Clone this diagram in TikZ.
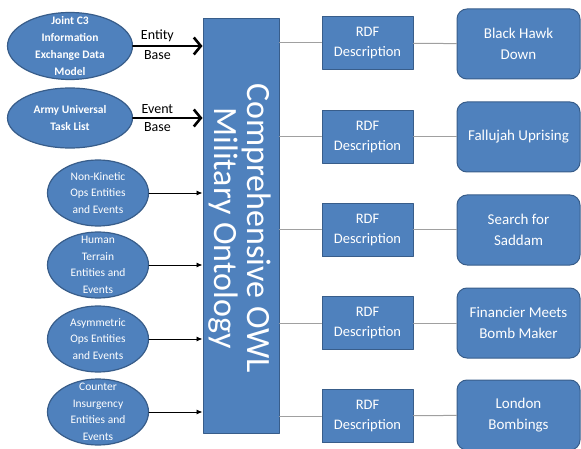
\documentclass[tikz,border=0pt]{standalone}
\usepackage{fontspec}
\setmainfont{Carlito}
\usepackage{tikz}
\usepackage{xcolor}
\usetikzlibrary{arrows.meta,shapes.geometric}

\definecolor{ontoblue}{HTML}{4F81BD}
\definecolor{ontoedge}{HTML}{385D8A}
\definecolor{linkgray}{HTML}{A0A0A0}

\begin{document}
\begin{tikzpicture}[x=1pt, y=-1pt, >=Latex, line cap=round, line join=round,
  oval/.style={ellipse, draw=ontoedge, line width=1.2pt, fill=ontoblue, inner sep=0pt},
  ovaltext/.style={text=white, align=center, font=\fontsize{11.5}{16.5}\selectfont},
  ovalbold/.style={ovaltext, font=\bfseries\fontsize{11.5}{17}\selectfont},
  rdfbox/.style={rectangle, draw=ontoedge, line width=1pt, fill=ontoblue, text=white,
    align=center, minimum width=91pt, minimum height=53pt, inner sep=0pt,
    font=\fontsize{14.5}{20}\selectfont},
  storybox/.style={rectangle, rounded corners=10pt, draw=ontoedge, line width=1pt,
    fill=ontoblue, text=white, align=center, minimum width=123pt, minimum height=70pt,
    inner sep=0pt, font=\fontsize{15}{21}\selectfont},
  link/.style={draw=linkgray, line width=1pt},
  feed/.style={->, line width=2.6pt, -{Straight Barb[length=7pt,width=17pt]}},
  thinfeed/.style={line width=0.9pt, -{Latex[length=6pt,width=5pt]}}]
  \useasboundingbox (0,0) rectangle (581,449);

  % central ontology
  \node[rectangle, draw=ontoedge, line width=1pt, fill=ontoblue,
    minimum width=76pt, minimum height=414pt, inner sep=0pt] (owl) at (241,226) {};
  \node[rotate=-90, text=white, align=center, font=\fontsize{34}{33}\selectfont]
    (owltext) at (240,228) {Comprehensive OWL\\Military Ontology};

  % sources
  \node[oval, minimum width=125pt, minimum height=67pt,
    label={[ovalbold]center:{Joint C3\\Information\\Exchange Data\\Model}}] (jc3) at (70,46) {};
  \node[oval, minimum width=125pt, minimum height=60pt,
    label={[ovalbold]center:{Army Universal\\Task List}}] (autl) at (70,118) {};
  \node[oval, minimum width=101pt, minimum height=66pt,
    label={[ovaltext]center:{Non-Kinetic\\Ops Entities\\and Events}}] (nonkin) at (98,193) {};
  \node[oval, minimum width=101pt, minimum height=66pt,
    label={[ovaltext]center:{Human\\Terrain\\Entities and\\Events}}] (human) at (98,265) {};
  \node[oval, minimum width=101pt, minimum height=66pt,
    label={[ovaltext]center:{Asymmetric\\Ops Entities\\and Events}}] (asym) at (98,339) {};
  \node[oval, minimum width=101pt, minimum height=66pt,
    label={[ovaltext]center:{Counter\\Insurgency\\Entities and\\Events}}] (coin) at (98,412) {};

  \draw[feed] (jc3.east) -- (jc3.east -| owl.west)
    node[pos=0.35, above, font=\fontsize{14}{16}\selectfont] {Entity}
    node[pos=0.35, below, font=\fontsize{14}{16}\selectfont] {Base};
  \draw[feed] (autl.east) -- (autl.east -| owl.west)
    node[pos=0.35, above, font=\fontsize{14}{16}\selectfont] {Event}
    node[pos=0.35, below, font=\fontsize{14}{16}\selectfont] {Base};
  \draw[thinfeed] (nonkin.east) -- (nonkin.east -| owl.west);
  \draw[thinfeed] (human.east) -- (human.east -| owl.west);
  \draw[thinfeed] (asym.east) -- (asym.east -| owl.west);
  \draw[thinfeed] (coin.east) -- (coin.east -| owl.west);

  % RDF descriptions and stories
  \node[rdfbox] (rdfA) at (367.5,43) {RDF\\Description};
  \node[rdfbox] (rdfB) at (367.5,137) {RDF\\Description};
  \node[rdfbox] (rdfC) at (367.5,230) {RDF\\Description};
  \node[rdfbox] (rdfD) at (367.5,323) {RDF\\Description};
  \node[rdfbox] (rdfE) at (367.5,416) {RDF\\Description};

  \node[storybox] (hawk) at (518.5,44) {Black Hawk\\Down};
  \node[storybox] (fallujah) at (518.5,137) {Fallujah Uprising};
  \node[storybox] (saddam) at (518.5,230) {Search for\\Saddam};
  \node[storybox] (bomb) at (518.5,323) {Financier Meets\\Bomb Maker};
  \node[storybox] (london) at (518.5,415) {London\\Bombings};

  \draw[link] (owl.east |- rdfA) -- (rdfA.west);
  \draw[link] (owl.east |- rdfB) -- (rdfB.west);
  \draw[link] (owl.east |- rdfC) -- (rdfC.west);
  \draw[link] (owl.east |- rdfD) -- (rdfD.west);
  \draw[link] (owl.east |- rdfE) -- (rdfE.west);
  \draw[link] (rdfA) -- (hawk);
  \draw[link] (rdfB) -- (fallujah);
  \draw[link] (rdfC) -- (saddam);
  \draw[link] (rdfD) -- (bomb);
  \draw[link] (rdfE) -- (london);
\end{tikzpicture}
\end{document}
